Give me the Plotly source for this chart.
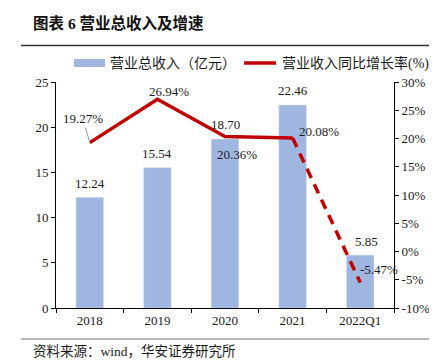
import plotly.graph_objects as go

categories = ["2018", "2019", "2020", "2021", "2022Q1"]
revenue = [12.24, 15.54, 18.70, 22.46, 5.85]
growth = [19.27, 26.94, 20.36, 20.08, -5.47]
revenue_labels = ["12.24", "15.54", "18.70", "22.46", "5.85"]
growth_labels = ["19.27%", "26.94%", "20.36%", "20.08%", "-5.47%"]
left_ticks = [0, 5, 10, 15, 20, 25]
right_ticks = [-10, -5, 0, 5, 10, 15, 20, 25, 30]
legend_names = ["营业总收入（亿元）", "营业收入同比增长率(%)"]

W, H = 437, 364
L, R, T, B = 48, 51, 74, 64
PW, PH = W - L - R, H - T - B

def px_x(px):
    return (px - L) / PW

def px_y(py):
    return (H - B - py) / PH

BAR_C = "#9fb6e1"
RED = "#c00000"
SERIF = "Liberation Serif, Noto Sans CJK SC"
TXT = "#1a1a1a"

fig = go.Figure()
fig.add_trace(go.Bar(x=categories, y=revenue, marker_color=BAR_C, width=0.41,
                     showlegend=False, yaxis="y"))
fig.add_trace(go.Scatter(x=categories[:4], y=growth[:4], mode="lines",
                         line=dict(color=RED, width=3.5), showlegend=False, yaxis="y2"))
fig.add_trace(go.Scatter(x=categories[3:], y=growth[3:], mode="lines",
                         line=dict(color=RED, width=3.5, dash="10px,7px"),
                         showlegend=False, yaxis="y2"))

ann = []
bar_xshift = [0, 0, 0, 0, 6]
for i, (v, t, xs) in enumerate(zip(revenue, revenue_labels, bar_xshift)):
    ann.append(dict(x=i, y=v, xref="x", yref="y", text=t, showarrow=False,
                    yshift=14, xshift=xs, font=dict(size=13, family=SERIF, color=TXT)))

g_shift = [None, (12, 8), (12, -18), (26, 7), (19, 13)]
for i, (v, t) in enumerate(zip(growth, growth_labels)):
    if g_shift[i] is None:
        ann.append(dict(x=i, y=v, xref="x", yref="y2", text=t, showarrow=True,
                        arrowhead=0, arrowwidth=1, arrowcolor="#999999", ax=-7, ay=-24,
                        font=dict(size=13, family=SERIF, color=TXT)))
    else:
        xs, ys = g_shift[i]
        ann.append(dict(x=i, y=v, xref="x", yref="y2", text=t, showarrow=False,
                        xshift=xs, yshift=ys, font=dict(size=13, family=SERIF, color=TXT)))

# title and source
ann.append(dict(x=px_x(23), y=px_y(15), xref="paper", yref="paper", xanchor="left",
                yanchor="middle", showarrow=False, text="<b>图表 6 营业总收入及增速</b>",
                font=dict(size=15.5, family=SERIF, color="#111111")))
ann.append(dict(x=px_x(23), y=px_y(343), xref="paper", yref="paper", xanchor="left",
                yanchor="middle", showarrow=False, text="资料来源：wind，华安证券研究所",
                font=dict(size=13.5, family=SERIF, color=TXT)))

# manual legend
LEG_Y = 55
ann.append(dict(x=px_x(100), y=px_y(LEG_Y), xref="paper", yref="paper", xanchor="left",
                yanchor="middle", showarrow=False, text=legend_names[0],
                font=dict(size=14, family=SERIF, color=TXT)))
ann.append(dict(x=px_x(272), y=px_y(LEG_Y), xref="paper", yref="paper", xanchor="left",
                yanchor="middle", showarrow=False, text=legend_names[1],
                font=dict(size=14, family=SERIF, color=TXT)))

shapes = [
    dict(type="line", xref="paper", yref="paper", x0=px_x(13), x1=px_x(437),
         y0=px_y(37.5), y1=px_y(37.5), line=dict(color="#333333", width=1.5)),
    dict(type="line", xref="paper", yref="paper", x0=px_x(13), x1=px_x(437),
         y0=px_y(331), y1=px_y(331), line=dict(color="#777777", width=1)),
    dict(type="line", xref="paper", yref="paper", x0=px_x(66), x1=px_x(97),
         y0=px_y(LEG_Y), y1=px_y(LEG_Y), line=dict(color=BAR_C, width=8)),
    dict(type="line", xref="paper", yref="paper", x0=px_x(236), x1=px_x(268),
         y0=px_y(LEG_Y), y1=px_y(LEG_Y), line=dict(color=RED, width=3.5)),
]

fig.update_layout(
    width=W, height=H,
    margin=dict(l=L, r=R, t=T, b=B, autoexpand=False),
    paper_bgcolor="white", plot_bgcolor="white",
    font=dict(family=SERIF, size=13, color=TXT),
    showlegend=False,
    xaxis=dict(type="category", range=[-0.5, 4.5], showline=True, linecolor="black",
               linewidth=1, ticks="outside", tickson="boundaries", ticklen=4,
               tickcolor="black", showgrid=False, zeroline=False,
               tickfont=dict(size=13, family=SERIF)),
    yaxis=dict(range=[0, 25], tickvals=left_ticks, showline=True, linecolor="black",
               linewidth=1, ticks="outside", ticklen=4, tickcolor="black", showgrid=False,
               zeroline=False, tickfont=dict(size=13, family=SERIF)),
    yaxis2=dict(range=[-10, 30], tickvals=right_ticks, ticktext=[f"{v}%" for v in right_ticks],
                overlaying="y", side="right", showline=True, linecolor="black", linewidth=1,
                ticks="outside", ticklen=4, tickcolor="black", showgrid=False, zeroline=False,
                tickfont=dict(size=13, family=SERIF)),
    annotations=ann, shapes=shapes,
)

fig.write_html("out.html")
